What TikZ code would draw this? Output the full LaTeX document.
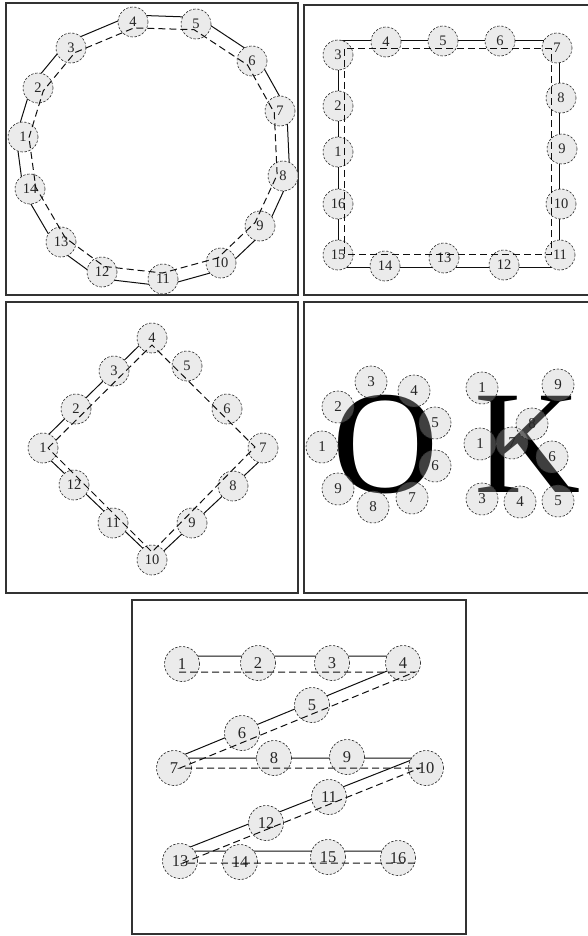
\documentclass[tikz,border=0pt]{standalone}
\usepackage{fontspec}
\setmainfont{Liberation Serif}
\usepackage{xcolor}
\usepackage{tikz}
\usetikzlibrary{calc, backgrounds}
\definecolor{nodeFill}{RGB}{235,235,235}
\definecolor{frameLine}{RGB}{50,50,50}
\definecolor{trackLine}{RGB}{15,15,15}
\tikzset{
  panelFrame/.style={draw=frameLine, line width=1.2pt},
  markNode/.style={
    circle,
    draw=black!85,
    dash pattern=on 2.4pt off 1.6pt,
    line width=0.6pt,
    fill=nodeFill,
    text=black!85,
    inner sep=0pt,
    minimum size=30pt,
    font=\fontsize{14.5}{14.5}\selectfont
  },
  bigMarkNode/.style={markNode, minimum size=35pt, font=\fontsize{16.5}{16.5}\selectfont},
  glassNode/.style={markNode, minimum size=32pt, fill=black!24, fill opacity=0.33, text opacity=1, font=\fontsize{15}{15}\selectfont},
  letterNode/.style={inner sep=0pt, anchor=base, font=\fontsize{147}{147}\selectfont},
  solidTrack/.style={draw=trackLine, line width=1pt},
  dashedTrack/.style={draw=trackLine, line width=1pt, dash pattern=on 7pt off 4pt}
}

\begin{document}
\begin{tikzpicture}[x=1pt, y=-1pt]
  \useasboundingbox (0,0) rectangle (588,936);

  \draw[panelFrame] (6,3) rectangle (298,295);
  \draw[panelFrame] (304,5) rectangle (590,295);
  \draw[panelFrame] (6,302) rectangle (298,593);
  \draw[panelFrame] (304,302) rectangle (590,593);
  \draw[panelFrame] (132,600) rectangle (466,934);

  % ring
  \coordinate (ringMid) at (153,150);
  \node[markNode] (a1) at (23,137) {1};
  \node[markNode] (a2) at (38,88) {2};
  \node[markNode] (a3) at (71,48) {3};
  \node[markNode] (a4) at (133,22) {4};
  \node[markNode] (a5) at (196,24) {5};
  \node[markNode] (a6) at (252,61) {6};
  \node[markNode] (a7) at (280,111) {7};
  \node[markNode] (a8) at (283,176) {8};
  \node[markNode] (a9) at (260,226) {9};
  \node[markNode] (a10) at (221,263) {10};
  \node[markNode] (a11) at (163,279) {11};
  \node[markNode] (a12) at (102,272) {12};
  \node[markNode] (a13) at (61,242) {13};
  \node[markNode] (a14) at (30,189) {14};
  \begin{scope}[on background layer]
    \draw[solidTrack] ($(a1)!-7pt!(ringMid)$) \foreach \n in {2,...,14} { -- ($(a\n)!-7pt!(ringMid)$) } -- cycle;
  \end{scope}
  \draw[dashedTrack] ($(a1)!6pt!(ringMid)$) \foreach \n in {2,...,14} { -- ($(a\n)!6pt!(ringMid)$) } -- cycle;

  % square
  \node[markNode] (b1) at (338,152) {1};
  \node[markNode] (b2) at (338,106) {2};
  \node[markNode] (b3) at (338,55) {3};
  \node[markNode] (b4) at (386,42) {4};
  \node[markNode] (b5) at (443,41) {5};
  \node[markNode] (b6) at (500,41) {6};
  \node[markNode] (b7) at (557,48) {7};
  \node[markNode] (b8) at (561,98) {8};
  \node[markNode] (b9) at (562,149) {9};
  \node[markNode] (b10) at (561,204) {10};
  \node[markNode] (b11) at (560,255) {11};
  \node[markNode] (b12) at (504,265) {12};
  \node[markNode] (b13) at (444,258) {13};
  \node[markNode] (b14) at (385,266) {14};
  \node[markNode] (b15) at (338,255) {15};
  \node[markNode] (b16) at (338,204) {16};
  \begin{scope}[on background layer]
    \draw[solidTrack] ($(b3)+(0,-14)$) rectangle ($(b11)+(-0.5,12)$);
  \end{scope}
  \draw[dashedTrack] ($(b3)+(6,-6)$) rectangle ($(b11)+(-9,-1)$);

  % diamond
  \node[markNode] (c1) at (43,448) {1};
  \node[markNode] (c2) at (76,409) {2};
  \node[markNode] (c3) at (114,371) {3};
  \node[markNode] (c4) at (152,338) {4};
  \node[markNode] (c5) at (187,366) {5};
  \node[markNode] (c6) at (227,409) {6};
  \node[markNode] (c7) at (263,448) {7};
  \node[markNode] (c8) at (233,486) {8};
  \node[markNode] (c9) at (192,523) {9};
  \node[markNode] (c10) at (152,560) {10};
  \node[markNode] (c11) at (113,523) {11};
  \node[markNode] (c12) at (74,485) {12};
  \begin{scope}[on background layer]
    \draw[solidTrack] ($(c4)+(0,-5)$) -- ($(c1)+(-3,-5)$) -- ($(c1)+(0,5)$) -- ($(c10)+(0,-3)$) -- ($(c10)+(0,2)$) -- ($(c7)+(0,10)$);
  \end{scope}
  \draw[dashedTrack] ($(c1)+(5,0)$) -- ($(c4)+(0,7)$) -- ($(c7)+(-8,-1)$) -- ($(c10)+(0,-8)$) -- cycle;

  % OK
  \node[letterNode] (bigO) at (385.5,492.5) {O};
  \node[letterNode] (bigK) at (527.5,492.5) {K};
  \node[glassNode] (o1) at (322,447) {1};
  \node[glassNode] (o2) at (338,407) {2};
  \node[glassNode] (o3) at (371,382) {3};
  \node[glassNode] (o4) at (414,391) {4};
  \node[glassNode] (o5) at (435,423) {5};
  \node[glassNode] (o6) at (435,466) {6};
  \node[glassNode] (o7) at (412,498) {7};
  \node[glassNode] (o8) at (373,507) {8};
  \node[glassNode] (o9) at (338,489) {9};
  \node[glassNode] (k1a) at (482,388) {1};
  \node[glassNode] (k1b) at (480,444) {1};
  \node[glassNode] (k3) at (482,499) {3};
  \node[glassNode] (k4) at (520,502) {4};
  \node[glassNode] (k5) at (558,501) {5};
  \node[glassNode] (k6) at (552,457) {6};
  \node[glassNode] (k7) at (512,443) {7};
  \node[glassNode] (k8) at (532,424) {8};
  \node[glassNode] (k9) at (558,385) {9};

  % zigzag
  \node[bigMarkNode] (e1) at (182,664) {1};
  \node[bigMarkNode] (e2) at (258,663) {2};
  \node[bigMarkNode] (e3) at (332,663) {3};
  \node[bigMarkNode] (e4) at (403,663) {4};
  \node[bigMarkNode] (e5) at (312,705) {5};
  \node[bigMarkNode] (e6) at (242,733) {6};
  \node[bigMarkNode] (e7) at (174,768) {7};
  \node[bigMarkNode] (e8) at (274,758) {8};
  \node[bigMarkNode] (e9) at (347,757) {9};
  \node[bigMarkNode] (e10) at (426,768) {10};
  \node[bigMarkNode] (e11) at (329,797) {11};
  \node[bigMarkNode] (e12) at (266,823) {12};
  \node[bigMarkNode] (e13) at (180,861) {13};
  \node[bigMarkNode] (e14) at (240,862) {14};
  \node[bigMarkNode] (e15) at (328,857) {15};
  \node[bigMarkNode] (e16) at (398,858) {16};
  \begin{scope}[on background layer]
    \draw[solidTrack] ($(e1)+(0,-8)$) -- ($(e4)+(0,-7)$) -- ($(e4)+(1,1)$) -- ($(e7)+(2,-10)$) -- ($(e10)+(-2,-10)$) -- ($(e10)+(-2,-13)$) -- ($(e13)+(0,-10)$) -- ($(e16)+(0,-7)$);
  \end{scope}
  \draw[dashedTrack] ($(e1)+(-3,8)$) -- ($(e4)+(12,9)$) -- ($(e7)+(6,0)$) -- ($(e10)+(-6,0)$) -- ($(e13)+(3,2)$) -- ($(e16)+(17,5)$);
\end{tikzpicture}
\end{document}
